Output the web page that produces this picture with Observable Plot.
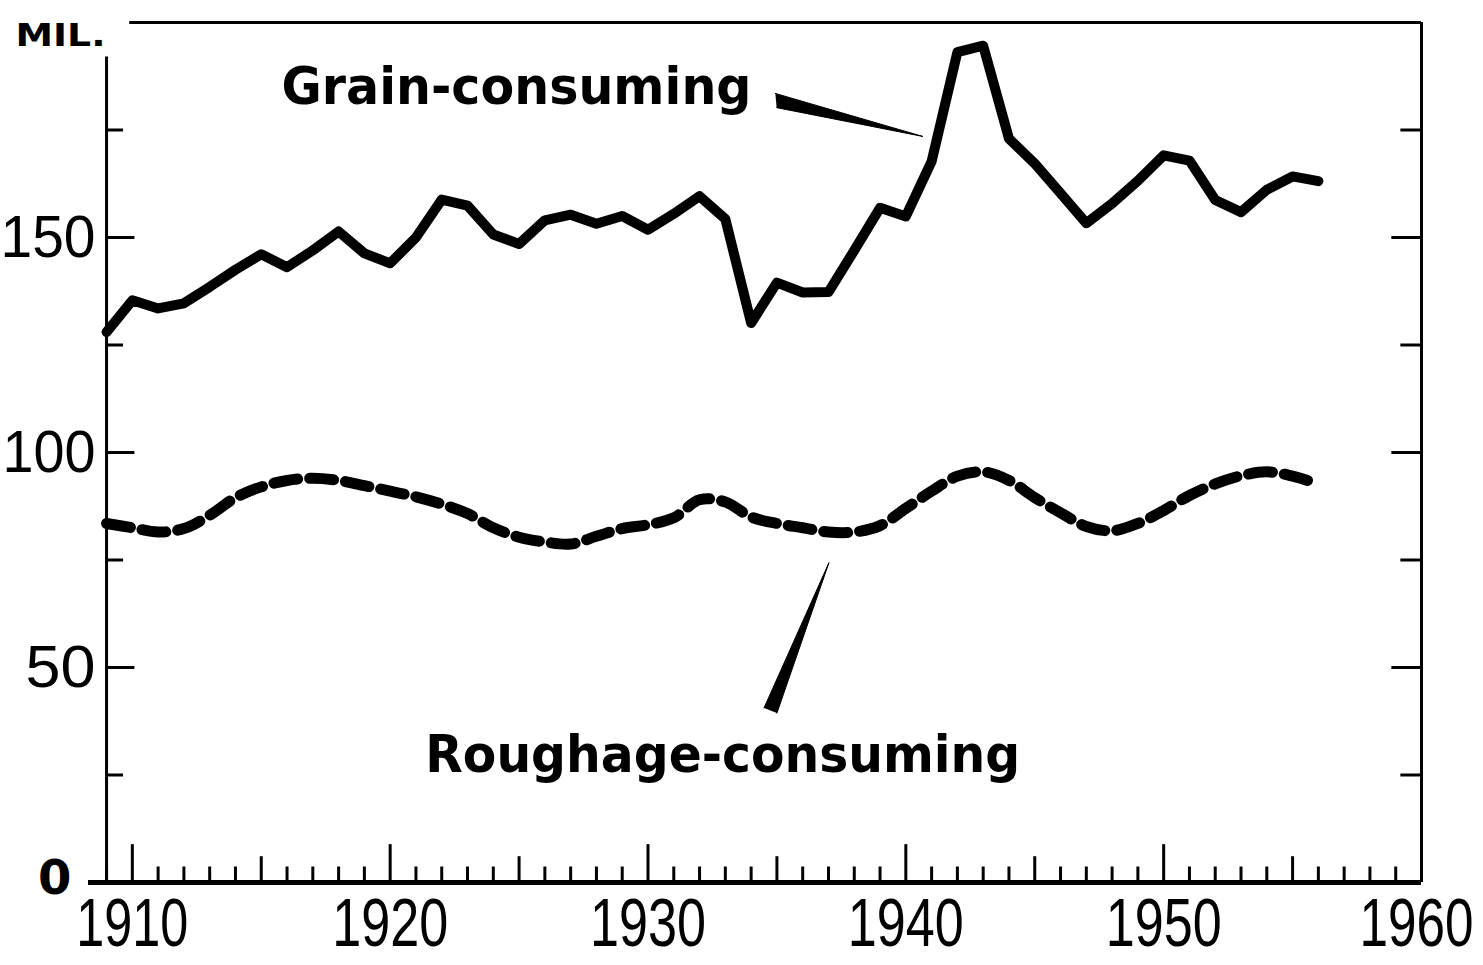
<!DOCTYPE html>
<html>
<head>
<meta charset="utf-8">
<script src="https://cdn.jsdelivr.net/npm/d3@7"></script>
<script src="https://cdn.jsdelivr.net/npm/@observablehq/plot@0.6"></script>
<style>
  html, body { margin: 0; padding: 0; background: #fff; }
  #chart svg { display: block; }
</style>
</head>
<body>
<div id="chart"></div>
<script>
// ---- Data (million head / animal units) ----
const years = d3.range(1909, 1957);
const grainConsuming = [
  128.0, 135.4, 133.5, 134.7, 138.5, 142.5, 146.1, 143.1, 147.0, 151.4,
  146.3, 144.0, 150.0, 158.8, 157.4, 150.7, 148.5, 154.0, 155.3, 153.2,
  155.0, 151.8, 155.5, 159.6, 154.3, 130.1, 139.5, 137.2, 137.3, 147.0,
  156.9, 154.9, 167.7, 193.1, 194.6, 173.0, 167.2, 160.3, 153.3, 157.9,
  163.2, 169.1, 167.9, 158.7, 155.9, 161.1, 164.2, 163.1
];
const roughageConsuming = [
  83.5, 82.5, 81.5, 82.3, 85.4, 89.5, 92.0, 93.5, 94.0, 93.5,
  92.3, 91.0, 89.7, 88.0, 85.8, 82.5, 80.3, 79.2, 78.7, 80.5,
  82.3, 83.2, 84.8, 89.0, 88.5, 85.0, 83.5, 82.5, 81.5, 81.5,
  83.0, 87.0, 91.0, 94.5, 95.5, 93.5, 89.5, 86.0, 82.8, 81.8,
  83.5, 86.5, 90.0, 92.7, 94.6, 95.5, 94.5, 92.7
];
const xTickLabels = [1910, 1920, 1930, 1940, 1950, 1960];
const yTickLabels = [50, 100, 150];
const yTicks = [25, 50, 75, 100, 125, 150, 175];
const yearTicks = d3.range(1909, 1960);
const seriesNames = ["Grain-consuming", "Roughage-consuming"];
const unitLabel = "MIL.";

// ---- Build tables ----
const grain = years.map((y, i) => ({year: y, value: grainConsuming[i]}));
const rough = years.map((y, i) => ({year: y, value: roughageConsuming[i]}));

const numFont = "'Liberation Sans', 'DejaVu Sans', sans-serif";
const labelFont = "'DejaVu Sans', 'Lato', sans-serif";

const xMin = 1908.3, xMax = 1960;
const tickLen = y => (y % 10 === 0 ? 8.8 : y % 5 === 0 ? 6.0 : 3.6);

// rendered widths (px) to mimic the condensed typeface of the original
const textWidths = {
  "1910": 112, "1920": 116, "1930": 116, "1940": 116, "1950": 116, "1960": 114,
  "150": 95, "100": 93, "50": 70,
  "MIL.": 90,
  "Grain-consuming": 470,
  "Roughage-consuming": 595
};

const xLabelStyle = {y: 0, dy: 42, text: d => String(d), fontSize: 68, fontFamily: numFont, fill: "#000"};

const chart = Plot.plot({
  width: 1483,
  height: 965,
  marginLeft: 88,
  marginRight: 62,
  marginTop: 22,
  marginBottom: 83,
  x: {domain: [xMin, xMax], axis: null},
  y: {domain: [0, 200], axis: null},
  style: {background: "#fff", color: "#000"},
  marks: [
    // frame
    Plot.ruleY([0], {x1: xMin, x2: xMax, stroke: "#000", strokeWidth: 5}),
    Plot.ruleX([1909], {y1: 0, y2: 192, stroke: "#000", strokeWidth: 3}),
    Plot.ruleY([200], {x1: 1909.9, x2: xMax, stroke: "#000", strokeWidth: 3}),
    Plot.ruleX([xMax], {y1: 0, y2: 200, stroke: "#000", strokeWidth: 3}),
    // left & right inward ticks
    Plot.ruleY(yTicks, {x1: 1909, x2: d => 1909 + (d % 50 === 0 ? 1.1 : 0.66), stroke: "#000", strokeWidth: 3}),
    Plot.ruleY(yTicks, {x1: xMax, x2: d => xMax - (d % 50 === 0 ? 1.15 : 0.8), stroke: "#000", strokeWidth: 3}),
    // bottom year ticks
    Plot.ruleX(yearTicks, {y1: 0, y2: tickLen, stroke: "#000", strokeWidth: 3}),
    // x tick labels
    Plot.text(xTickLabels.filter(d => d < xMax), {x: d => d, ...xLabelStyle}),
    Plot.text(xTickLabels.filter(d => d >= xMax), {x: d => d, dx: -5, ...xLabelStyle}),
    // y tick labels
    Plot.text(yTickLabels, {y: d => d, frameAnchor: "left", dx: 7, textAnchor: "end", text: d => String(d), fontSize: 60, fontFamily: numFont, fill: "#000"}),
    Plot.text([0], {y: d => d, frameAnchor: "left", dx: -17, dy: -4, textAnchor: "end", text: d => String(d), fontSize: 48, fontWeight: "bold", fontFamily: labelFont, fill: "#000"}),
    // unit label
    Plot.text([unitLabel], {frameAnchor: "top-left", dx: -73, dy: 1, textAnchor: "start", text: d => d, fontSize: 32, fontWeight: "bold", fontFamily: labelFont, fill: "#000"}),
    // series
    Plot.line(grain, {x: "year", y: "value", stroke: "#000", strokeWidth: 10, strokeLinejoin: "round", strokeLinecap: "round"}),
    Plot.line(rough, {x: "year", y: "value", stroke: "#000", strokeWidth: 11, strokeDasharray: "24,12", curve: "catmull-rom"}),
    // series labels
    Plot.text([seriesNames[0]], {x: 1924.9, y: 185, text: d => d, fontSize: 52, fontWeight: "bold", fontFamily: labelFont, fill: "#000"}),
    Plot.text([seriesNames[1]], {x: 1932.9, y: 29.5, text: d => d, fontSize: 52, fontWeight: "bold", fontFamily: labelFont, fill: "#000"}),
    // tapered leader wedges
    Plot.line([{x: 1934.94, y: 183.5}, {x: 1940.66, y: 173.5}, {x: 1934.99, y: 180.2}], {x: "x", y: "y", fill: "#000", stroke: "#000", strokeWidth: 1}),
    Plot.line([{x: 1934.5, y: 40.6}, {x: 1937.02, y: 74.4}, {x: 1935.0, y: 39.4}], {x: "x", y: "y", fill: "#000", stroke: "#000", strokeWidth: 1})
  ]
});

d3.select(chart).selectAll("text").each(function () {
  const t = this.textContent;
  if (textWidths[t]) {
    this.setAttribute("textLength", textWidths[t]);
    this.setAttribute("lengthAdjust", "spacingAndGlyphs");
  }
});

document.getElementById("chart").appendChild(chart);
</script>
</body>
</html>
